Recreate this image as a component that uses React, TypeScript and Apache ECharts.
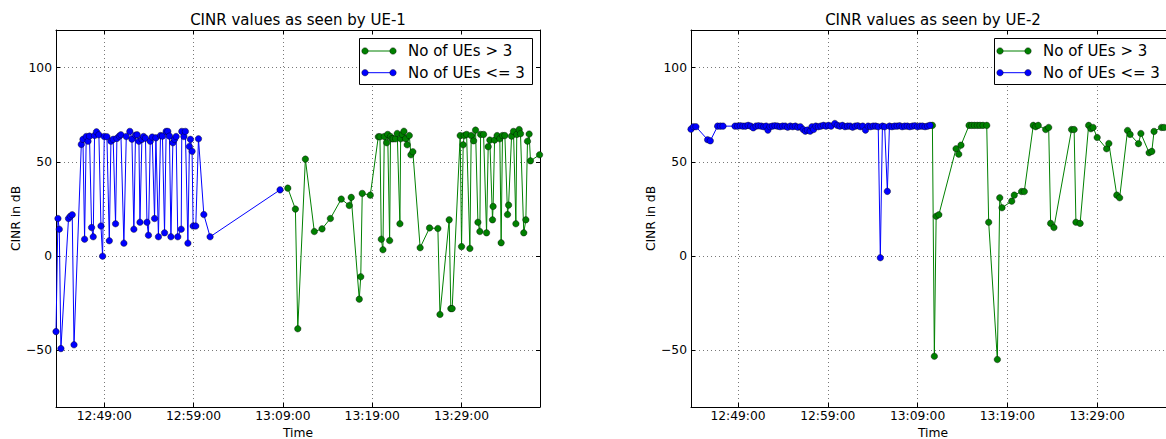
import React, { useEffect, useRef } from "react";
import * as echarts from "echarts";

// Reference time for tick alignment (ticks every 10 minutes from 12:49:00)
const TICK_ORIGIN = "12:49:00";
const TICK_STEP_MIN = 10;
const Y_RANGE: [number, number] = [-80, 120];
const Y_STEP = 50;

const titles = ["CINR values as seen by UE-1", "CINR values as seen by UE-2"];
const seriesNames = ["No of UEs > 3", "No of UEs <= 3"];
const seriesColors = ["#008000", "#0000ff"];
const xAxisName = "Time";
const yAxisName = "CINR in dB";

const ue1Range: [string, string] = ["12:43:36", "13:37:47"];
const ue2Range: [string, string] = ["12:43:46", "13:37:40"];

// UE-1, number of UEs <= 3
const ue1Low: [string, number][] = [
  ["12:43:36", -40], ["12:43:49", 20], ["12:43:58", 14.3], ["12:44:09", -49],
  ["12:45:00", 20], ["12:45:12", 21.2], ["12:45:25", 22], ["12:45:37", -47],
  ["12:46:26", 59.3], ["12:46:37", 62], ["12:46:48", 9], ["12:46:59", 63.5],
  ["12:47:11", 61], ["12:47:21", 63.7], ["12:47:35", 15.2], ["12:47:46", 10.3],
  ["12:47:55", 64], ["12:48:08", 66], ["12:48:24", 64.4], ["12:48:38", 16],
  ["12:48:49", 0], ["12:49:00", 63.5], ["12:49:18", 63.4], ["12:49:34", 8.2],
  ["12:49:45", 61], ["12:50:00", 62], ["12:50:16", 17.2], ["12:50:25", 62.5],
  ["12:50:41", 63.7], ["12:50:52", 64.4], ["12:51:12", 6.9], ["12:51:28", 63.5],
  ["12:51:52", 66.2], ["12:52:06", 62.1], ["12:52:19", 14.3], ["12:52:30", 64.2],
  ["12:52:41", 64.4], ["12:52:53", 61], ["12:53:00", 18], ["12:53:13", 62],
  ["12:53:24", 63.5], ["12:53:37", 62.6], ["12:53:47", 18], ["12:53:57", 11.1],
  ["12:54:09", 61], ["12:54:22", 63.2], ["12:54:38", 20], ["12:54:47", 62.8],
  ["12:55:04", 10.3], ["12:55:18", 64], ["12:55:31", 63.7], ["12:55:45", 12.4],
  ["12:55:56", 66.2], ["12:56:07", 66.2], ["12:56:18", 63.7], ["12:56:28", 10.3],
  ["12:56:41", 60.2], ["12:56:52", 62], ["12:57:03", 63.5], ["12:57:14", 10.3],
  ["12:57:37", 14.3], ["12:57:41", 66.2], ["12:57:55", 63.5], ["12:58:05", 66.2],
  ["12:58:22", 6.9], ["12:58:32", 58.2], ["12:58:39", 62], ["12:58:50", 55.7],
  ["12:58:57", 16], ["12:59:15", 16], ["12:59:33", 62.3], ["13:00:09", 22.1],
  ["13:00:51", 10.3], ["13:08:41", 35.2],
];

// UE-1, number of UEs > 3
const ue1High: [string, number][] = [
  ["13:09:33", 36.1], ["13:10:24", 25], ["13:10:40", -38.5], ["13:11:31", 51.5],
  ["13:12:31", 13.1], ["13:13:23", 14.5], ["13:14:19", 20], ["13:15:32", 30.3],
  ["13:16:26", 26.9], ["13:16:39", 31.2], ["13:17:33", -22.8], ["13:17:43", -10.9],
  ["13:17:53", 33.3], ["13:18:47", 32.4], ["13:19:41", 63.4], ["13:19:52", 63.4],
  ["13:20:01", 9], ["13:20:12", 3.4], ["13:20:21", 63.5], ["13:20:37", 60.2],
  ["13:20:44", 64.6], ["13:20:57", 8.3], ["13:21:03", 63.5], ["13:21:12", 62.3],
  ["13:21:21", 62.3], ["13:21:37", 62.3], ["13:21:48", 65.1], ["13:22:06", 17.2],
  ["13:22:11", 62.3], ["13:22:22", 64.6], ["13:22:33", 66.3], ["13:22:44", 62.3],
  ["13:22:55", 59.1], ["13:23:09", 64], ["13:23:20", 53.8], ["13:23:33", 55.4],
  ["13:24:22", 4.5], ["13:25:25", 15], ["13:26:21", 14.7], ["13:26:35", -30.9],
  ["13:27:37", 19.3], ["13:27:48", -27.8], ["13:27:57", -27.8], ["13:28:51", 64],
  ["13:29:00", 5.1], ["13:29:11", 59.1], ["13:29:18", 64], ["13:29:34", 64.6],
  ["13:29:56", 4.1], ["13:30:05", 64], ["13:30:21", 61.2], ["13:30:34", 66.9],
  ["13:30:50", 18], ["13:31:03", 13.1], ["13:31:08", 64.6], ["13:31:28", 64.6],
  ["13:31:48", 12.4], ["13:31:59", 58.1], ["13:32:10", 61.6], ["13:32:28", 19.3],
  ["13:32:32", 26.4], ["13:32:42", 61.6], ["13:32:59", 64], ["13:33:17", 62.3],
  ["13:33:26", 7.1], ["13:33:35", 64], ["13:33:51", 64], ["13:34:09", 22.1],
  ["13:34:16", 27.1], ["13:34:36", 63.7], ["13:34:49", 66.2], ["13:35:05", 17.2],
  ["13:35:11", 64.6], ["13:35:27", 67.2], ["13:35:36", 65], ["13:35:58", 12.4],
  ["13:36:12", 19.3], ["13:36:23", 61], ["13:36:34", 64.8], ["13:36:43", 50.6],
  ["13:37:44", 53.8],
];

// UE-2, number of UEs <= 3
const ue2Low: [string, number][] = [
  ["12:43:46", 67.4], ["12:44:02", 68.7], ["12:44:19", 68.7], ["12:45:37", 61.8],
  ["12:45:55", 61.2], ["12:46:44", 69], ["12:47:02", 69], ["12:47:20", 69],
  ["12:48:40", 69], ["12:48:58", 69], ["12:49:15", 69.2], ["12:49:33", 69],
  ["12:49:50", 69], ["12:50:08", 69.4], ["12:50:25", 69], ["12:50:42", 68.1],
  ["12:51:00", 69], ["12:51:17", 69.2], ["12:51:35", 69], ["12:51:52", 68.7],
  ["12:52:08", 69], ["12:52:20", 66.9], ["12:52:33", 68.7], ["12:52:50", 69],
  ["12:53:07", 69.2], ["12:53:24", 69], ["12:53:41", 68.7], ["12:53:58", 69],
  ["12:54:15", 69], ["12:54:32", 68.4], ["12:54:49", 69], ["12:55:06", 68.7],
  ["12:55:23", 69], ["12:55:40", 68.4], ["12:55:57", 68.7], ["12:56:16", 67.2],
  ["12:56:30", 66.3], ["12:56:44", 66.9], ["12:57:02", 66.3], ["12:57:14", 68.7],
  ["12:57:25", 67.2], ["12:57:40", 69], ["12:57:57", 68.7], ["12:58:14", 69],
  ["12:58:31", 69.4], ["12:58:48", 69], ["12:59:05", 69.4], ["12:59:22", 69],
  ["12:59:47", 70.4], ["13:00:04", 69.4], ["13:00:21", 69], ["13:00:38", 69.4],
  ["13:00:55", 68.7], ["13:01:12", 69], ["13:01:29", 69], ["13:01:46", 68.4],
  ["13:02:03", 69], ["13:02:20", 69.2], ["13:02:37", 68.7], ["13:02:54", 69],
  ["13:03:12", 66.9], ["13:03:29", 69], ["13:03:46", 68.7], ["13:04:03", 69],
  ["13:04:20", 69], ["13:04:37", 68.7], ["13:04:51", -0.8], ["13:05:05", 69],
  ["13:05:20", 68.7], ["13:05:38", 34.4], ["13:05:52", 69], ["13:06:09", 68.7],
  ["13:06:26", 69], ["13:06:43", 69], ["13:07:00", 69.2], ["13:07:17", 68.7],
  ["13:07:34", 69], ["13:07:51", 69], ["13:08:08", 68.7], ["13:08:25", 69],
  ["13:08:42", 69.2], ["13:08:59", 68.7], ["13:09:16", 69], ["13:09:33", 69],
  ["13:09:50", 68.7], ["13:10:07", 69], ["13:10:23", 69.4],
];

// UE-2, number of UEs > 3
const ue2High: [string, number][] = [
  ["13:10:39", 69.4], ["13:10:52", -53.1], ["13:11:04", 21.2], ["13:11:22", 22],
  ["13:13:17", 57], ["13:13:35", 54.1], ["13:13:50", 58.9], ["13:14:44", 69.4],
  ["13:15:02", 69.4], ["13:15:20", 69.4], ["13:15:39", 69.4], ["13:15:57", 69.4],
  ["13:16:17", 69.4], ["13:16:42", 69.4], ["13:16:55", 18], ["13:17:53", -54.8],
  ["13:18:09", 31], ["13:18:24", 25.7], ["13:19:29", 29.2], ["13:19:46", 32.4],
  ["13:20:35", 34.3], ["13:20:53", 34.3], ["13:21:53", 69.4], ["13:22:09", 68.7],
  ["13:22:26", 69.4], ["13:23:16", 67.2], ["13:23:36", 68.3], ["13:23:49", 17.4],
  ["13:24:11", 15.2], ["13:26:09", 67.2], ["13:26:26", 67.2], ["13:26:38", 18],
  ["13:27:06", 17.4], ["13:28:03", 69.4], ["13:28:18", 67.6], ["13:28:33", 68.3],
  ["13:29:00", 63], ["13:30:03", 57], ["13:30:18", 59.8], ["13:31:11", 32.4],
  ["13:31:30", 31], ["13:32:23", 66.7], ["13:32:40", 64.6], ["13:33:36", 59.7],
  ["13:33:52", 65.1], ["13:34:47", 54.9], ["13:35:05", 55.6], ["13:35:20", 66.2],
  ["13:36:10", 68.3], ["13:36:27", 68.3], ["13:37:40", 68.3],
];

const panels = [
  { range: ue1Range, high: ue1High, low: ue1Low },
  { range: ue2Range, high: ue2High, low: ue2Low },
];

// ---- helpers ----
const toSec = (t: string) => {
  const [h, m, s] = t.split(":").map(Number);
  return h * 3600 + m * 60 + s;
};
const ORIGIN_SEC = toSec(TICK_ORIGIN);
const toMin = (t: string) => (toSec(t) - ORIGIN_SEC) / 60;
const pad = (n: number) => String(n).padStart(2, "0");
const fmtTime = (v: number) => {
  const total = Math.round(v * 60) + ORIGIN_SEC;
  const h = Math.floor(total / 3600);
  const m = Math.floor((total % 3600) / 60);
  const s = total % 60;
  return `${pad(h)}:${pad(m)}:${pad(s)}`;
};
const isMultiple = (v: number, step: number) =>
  Math.abs(v / step - Math.round(v / step)) < 1e-6;

const FONT = "DejaVu Sans";
const GRID_TOP = 30;
const GRID_H = 377;
const GRID_W = 484;
const GRID_LEFTS = [56, 691];

function buildOption() {
  const grid: any[] = [];
  const xAxis: any[] = [];
  const yAxis: any[] = [];
  const series: any[] = [];
  const graphic: any[] = [];

  const gridLine = { show: true, lineStyle: { color: "#555", width: 0.8, type: [1, 3] } };
  const axisLine = { show: true, onZero: false, lineStyle: { color: "#000", width: 1 } };
  const tick = { show: true, inside: true, length: 4, lineStyle: { color: "#000", width: 1 } };

  panels.forEach((p, i) => {
    const left = GRID_LEFTS[i];
    const right = left + GRID_W;
    grid.push({
      left,
      top: GRID_TOP,
      width: GRID_W,
      height: GRID_H,
      containLabel: false,
      outerBoundsMode: "none",
    });
    const xMin = toMin(p.range[0]);
    const xMax = toMin(p.range[1]);
    const xCommon = {
      type: "value",
      gridIndex: i,
      min: xMin,
      max: xMax,
      minInterval: TICK_STEP_MIN,
      maxInterval: TICK_STEP_MIN,
      axisLine,
      axisTick: tick,
    };
    xAxis.push({
      ...xCommon,
      position: "bottom",
      splitLine: gridLine,
      axisLabel: {
        show: true,
        showMinLabel: false,
        showMaxLabel: false,
        margin: 3,
        color: "#000",
        fontSize: 12.3,
        fontFamily: FONT,
        formatter: (v: number) => (isMultiple(v, TICK_STEP_MIN) ? fmtTime(v) : ""),
      },
      name: xAxisName,
      nameLocation: "middle",
      nameGap: 12,
      nameTextStyle: { color: "#000", fontSize: 12.3, fontFamily: FONT },
    });
    xAxis.push({
      ...xCommon,
      position: "top",
      splitLine: { show: false },
      axisLabel: { show: false },
    });
    const yCommon = {
      type: "value",
      gridIndex: i,
      min: Y_RANGE[0],
      max: Y_RANGE[1],
      minInterval: Y_STEP,
      maxInterval: Y_STEP,
      axisLine,
      axisTick: tick,
    };
    yAxis.push({
      ...yCommon,
      position: "left",
      splitLine: gridLine,
      axisLabel: {
        show: true,
        showMinLabel: false,
        showMaxLabel: false,
        margin: 4,
        color: "#000",
        fontSize: 12.3,
        fontFamily: FONT,
        formatter: (v: number) =>
          isMultiple(v, Y_STEP) ? (v < 0 ? "\u2212" + String(-v) : String(v)) : "",
      },
      name: yAxisName,
      nameLocation: "middle",
      nameGap: 33,
      nameRotate: 90,
      nameTextStyle: { color: "#000", fontSize: 12.3, fontFamily: FONT },
    });
    yAxis.push({
      ...yCommon,
      position: "right",
      splitLine: { show: false },
      axisLabel: { show: false },
    });

    const mk = (name: string, color: string, data: [string, number][]) => ({
      type: "line",
      name,
      xAxisIndex: 2 * i,
      yAxisIndex: 2 * i,
      data: data.map(([t, v]) => [toMin(t), v]),
      symbol: "circle",
      symbolSize: 6.5,
      showSymbol: true,
      showAllSymbol: true,
      lineStyle: { color, width: 1 },
      itemStyle: { color, borderColor: "#000", borderWidth: 0.4 },
      emphasis: { disabled: true },
      silent: true,
      clip: true,
    });
    series.push(mk(seriesNames[0], seriesColors[0], p.high));
    series.push(mk(seriesNames[1], seriesColors[1], p.low));

    // title
    graphic.push({
      type: "text",
      x: left + GRID_W / 2,
      y: 20,
      style: {
        text: titles[i],
        fill: "#000",
        font: `15px '${FONT}'`,
        align: "center",
        verticalAlign: "middle",
      },
    });

    // legend box
    const bx = right - 181;
    const by = 38;
    graphic.push({
      type: "rect",
      shape: { x: bx + 0.5, y: by + 0.5, width: 173, height: 46 },
      style: { fill: "#fff", stroke: "#000", lineWidth: 1 },
      z: 100,
    });
    seriesNames.forEach((nm, k) => {
      const cy = k === 0 ? 51 : 72.7;
      const x1 = right - 175;
      const x2 = right - 147;
      graphic.push({
        type: "line",
        shape: { x1, y1: cy, x2, y2: cy },
        style: { stroke: seriesColors[k], lineWidth: 1 },
        z: 101,
      });
      [x1, x2].forEach((cx) =>
        graphic.push({
          type: "circle",
          shape: { cx, cy, r: 3.25 },
          style: { fill: seriesColors[k], stroke: "#000", lineWidth: 0.4 },
          z: 102,
        })
      );
      graphic.push({
        type: "text",
        x: right - 132,
        y: cy,
        style: {
          text: nm,
          fill: "#000",
          font: `15px '${FONT}'`,
          align: "left",
          verticalAlign: "middle",
        },
        z: 102,
      });
    });
  });

  return {
    animation: false,
    backgroundColor: "#fff",
    textStyle: { fontFamily: FONT },
    grid,
    xAxis,
    yAxis,
    series,
    graphic,
  };
}

export default function App() {
  const ref = useRef<HTMLDivElement>(null);
  useEffect(() => {
    const chart = echarts.init(ref.current as HTMLDivElement, null, { renderer: "svg" });
    chart.setOption(buildOption() as any);
    return () => chart.dispose();
  }, []);
  return (
    <div
      style={{
        position: "fixed",
        left: 0,
        top: 0,
        width: 1166,
        height: 439,
        overflow: "hidden",
        background: "#fff",
      }}
    >
      <div ref={ref} style={{ width: 1200, height: 439 }} />
    </div>
  );
}
